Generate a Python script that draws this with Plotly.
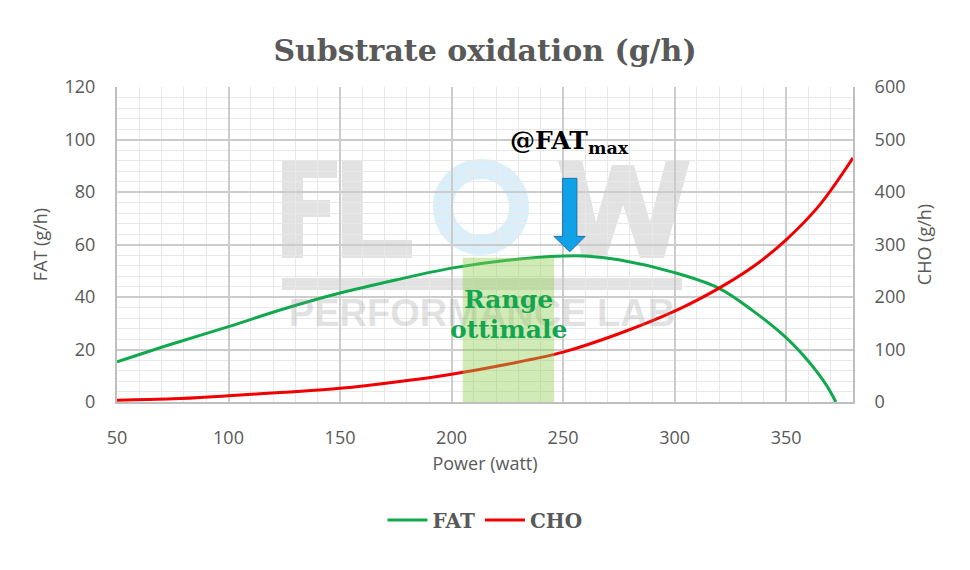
import plotly.graph_objects as go

# ---------------- data ----------------
fat_power = [50, 75, 100, 125, 150, 175, 200, 225, 250, 260, 275, 300, 320, 335, 350, 360, 368, 372.3]
fat_gh = [15.3, 22.2, 28.7, 35.5, 41.5, 46.5, 51.0, 54.0, 55.6, 55.6, 54.2, 49.3, 43.3, 34.8, 24.5, 15.5, 6.5, 0.0]

cho_power = [50, 75, 100, 125, 150, 175, 200, 225, 250, 275, 300, 320, 335, 350, 365, 380]
cho_gh = [3.5, 6, 12, 18.5, 26, 38, 53, 72, 95, 130, 173, 217, 257, 309, 375, 465]

optimal_range = [205, 246]        # watt
optimal_top = 55                  # g/h (FAT axis)
fatmax_power = 253                # watt, arrow position

x_ticks = [50, 100, 150, 200, 250, 300, 350]
y_left_ticks = [0, 20, 40, 60, 80, 100, 120]
y_right_ticks = [0, 100, 200, 300, 400, 500, 600]

# ---------------- styling ----------------
W, H = 970, 570
ML, MR, MT, MB = 117, 117, 87, 168
PW, PH = W - ML - MR, H - MT - MB
GREY = "#595959"
SLAB = "DejaVu Serif"
SANS = "Open Sans"
GREEN = "#12a84e"
RED = "#f00000"


def px(xp, yp):
    """pixel -> paper coordinates"""
    return (xp - ML) / PW, (H - MB - yp) / PH


def path_from_pixels(pts):
    s = ""
    for i, (a, b) in enumerate(pts):
        x, y = px(a, b)
        s += ("M" if i == 0 else "L") + f"{x:.5f},{y:.5f} "
    return s + "Z"


fig = go.Figure()

# watermark text (drawn first, below curves)
wm_x, wm_y = px(482, 316)
fig.add_trace(go.Scatter(
    x=[wm_x], y=[wm_y], xaxis="x3", yaxis="y3", mode="text",
    text=["PERFORMANCE LAB"], textposition="middle center",
    textfont=dict(family="Liberation Sans", size=38, weight="bold", color="rgba(140,140,140,0.25)"),
    showlegend=False, hoverinfo="skip"))

fig.add_trace(go.Scatter(
    x=fat_power, y=fat_gh, name="FAT", mode="lines",
    line=dict(color=GREEN, width=3, shape="spline", smoothing=1.0),
    hoverinfo="x+y"))
fig.add_trace(go.Scatter(
    x=cho_power, y=cho_gh, name="CHO", mode="lines", yaxis="y2",
    line=dict(color=RED, width=3, shape="spline", smoothing=1.0),
    hoverinfo="x+y"))

shapes = []
wm_fill = "rgba(150,150,150,0.28)"
# F
shapes.append(dict(type="path", xref="paper", yref="paper", layer="between", line_width=0, fillcolor=wm_fill,
                   path=path_from_pixels([(282, 160), (337, 160), (337, 178), (303, 178), (303, 200), (330, 200),
                                          (330, 217), (303, 217), (303, 258), (282, 258)])))
# L
shapes.append(dict(type="path", xref="paper", yref="paper", layer="between", line_width=0, fillcolor=wm_fill,
                   path=path_from_pixels([(342, 160), (363, 160), (363, 240), (412, 240), (412, 258), (342, 258)])))
# W
shapes.append(dict(type="path", xref="paper", yref="paper", layer="between", line_width=0, fillcolor=wm_fill,
                   path=path_from_pixels([(558, 160), (582, 160), (596, 222), (612, 165), (634, 165), (650, 222),
                                          (666, 160), (690, 160), (664, 258), (640, 258), (623, 205), (606, 258),
                                          (582, 258)])))
# bar
shapes.append(dict(type="path", xref="paper", yref="paper", layer="between", line_width=0, fillcolor=wm_fill,
                   path=path_from_pixels([(282, 278), (682, 278), (682, 290), (282, 290)])))
# O ring
ox0, oy0 = px(443, 245)
ox1, oy1 = px(519, 169)
shapes.append(dict(type="circle", xref="paper", yref="paper", layer="between",
                   x0=ox0, y0=oy0, x1=ox1, y1=oy1,
                   line=dict(color="rgba(110,190,235,0.25)", width=20), fillcolor="rgba(0,0,0,0)"))

# optimal range band (above the lines, translucent)
shapes.append(dict(type="rect", xref="x", yref="y", layer="above",
                   x0=optimal_range[0], x1=optimal_range[1], y0=0, y1=optimal_top,
                   fillcolor="rgba(146,208,80,0.42)", line_width=0))

# arrow pointing to FATmax
ax = fatmax_power
arrow = [(ax - 3.2, 85.2), (ax + 3.2, 85.2), (ax + 3.2, 63.1), (ax + 6.9, 63.1), (ax, 57.2),
         (ax - 7.1, 63.1), (ax - 3.2, 63.1)]
shapes.append(dict(type="path", xref="x", yref="y", layer="above",
                   path="M" + " L".join(f"{a},{b}" for a, b in arrow) + " Z",
                   fillcolor="#10a2e6", line=dict(color="#1f6fa8", width=1)))

mid_range = sum(optimal_range) / 2
annotations = [
    dict(xref="paper", yref="paper", x=px(508, 0)[0], y=px(0, 142)[1], xanchor="left", yanchor="middle",
         text="<b>@FAT<sub>max</sub></b>", showarrow=False,
         font=dict(family=SLAB, size=25, color="#000000")),
    dict(xref="x", yref="paper", x=mid_range, y=px(0, 299)[1], xanchor="center", yanchor="middle",
         text="<b>Range</b>", showarrow=False,
         font=dict(family=SLAB, size=25, color="#13a54f")),
    dict(xref="x", yref="paper", x=mid_range, y=px(0, 329)[1], xanchor="center", yanchor="middle",
         text="<b>ottimale</b>", showarrow=False,
         font=dict(family=SLAB, size=25, color="#13a54f")),
]

fig.update_layout(
    width=W, height=H,
    margin=dict(l=ML, r=MR, t=MT, b=MB, pad=0),
    paper_bgcolor="white", plot_bgcolor="white",
    title=dict(text="<b>Substrate oxidation (g/h)</b>", x=0.5, xanchor="center",
               y=1 - 50 / H, yanchor="middle",
               font=dict(family=SLAB, size=30, color=GREY)),
    xaxis=dict(range=[50, 380], tickvals=x_ticks, tickfont=dict(family=SANS, size=18, color=GREY),
               showgrid=True, gridcolor="#cccccc", gridwidth=1.5,
               minor=dict(dtick=10, tick0=50, showgrid=True, gridcolor="#e8e8e8", gridwidth=1),
               showline=True, linecolor="#bfbfbf", linewidth=2, zeroline=False,
               ticks="", ticklabelstandoff=18,
               title=dict(text="Power (watt)", font=dict(family=SANS, size=18, color=GREY), standoff=10)),
    yaxis=dict(range=[0, 120], tickvals=y_left_ticks, tickfont=dict(family=SANS, size=18, color=GREY),
               showgrid=True, gridcolor="#cccccc", gridwidth=1.5,
               minor=dict(dtick=4, tick0=0, showgrid=True, gridcolor="#e8e8e8", gridwidth=1),
               showline=True, linecolor="#bfbfbf", linewidth=2, zeroline=False,
               ticks="", ticklabelstandoff=16,
               title=dict(text="FAT (g/h)", font=dict(family=SANS, size=18, color=GREY), standoff=12)),
    yaxis2=dict(range=[0, 600], tickvals=y_right_ticks, overlaying="y", side="right",
                tickfont=dict(family=SANS, size=18, color=GREY), showgrid=False,
                showline=True, linecolor="#bfbfbf", linewidth=2, zeroline=False,
                ticks="", ticklabelstandoff=16,
                title=dict(text="CHO (g/h)", font=dict(family=SANS, size=18, color=GREY), standoff=14)),
    xaxis3=dict(range=[0, 1], overlaying="x", visible=False, fixedrange=True),
    yaxis3=dict(range=[0, 1], overlaying="y", visible=False, fixedrange=True),
    legend=dict(orientation="h", x=0.5, xanchor="center", y=px(0, 520)[1], yanchor="middle",
                font=dict(family=SLAB, size=20, color=GREY, weight="bold"), itemwidth=40,
                bgcolor="rgba(0,0,0,0)"),
    shapes=shapes,
    annotations=annotations,
)

fig.write_html("out.html")
